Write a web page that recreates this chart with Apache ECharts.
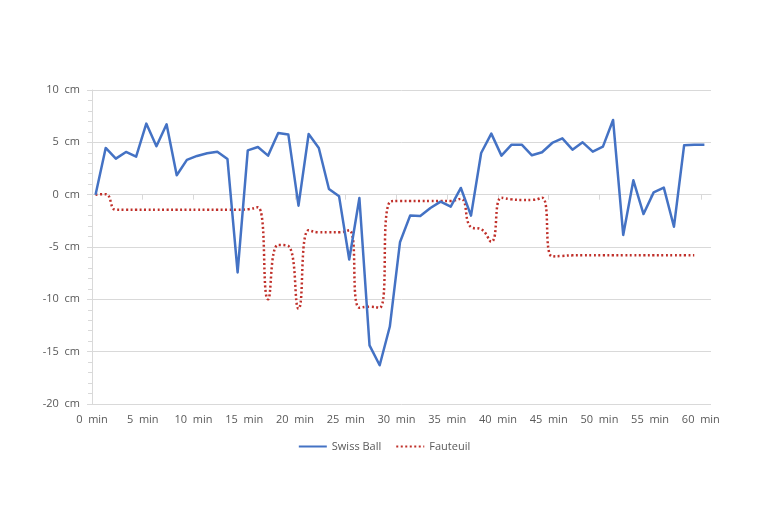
<!DOCTYPE html>
<html>
<head>
<meta charset="utf-8">
<script src="https://cdn.jsdelivr.net/npm/echarts@6/dist/echarts.min.js"></script>
<style>
html,body{margin:0;padding:0;background:#fff;}
#chart{width:768px;height:512px;}
</style>
</head>
<body>
<div id="chart"></div>
<script>
// Time of each measurement (minutes)
const times = [0.35,1.35,2.35,3.35,4.35,5.35,6.35,7.35,8.35,9.35,10.35,11.35,12.35,13.35,14.35,15.35,16.35,17.35,18.35,19.35,20.35,21.35,22.35,23.35,24.35,25.35,26.35,27.35,28.35,29.35,30.35,31.35,32.35,33.35,34.35,35.35,36.35,37.35,38.35,39.35,40.35,41.35,42.35,43.35,44.35,45.35,46.35,47.35,48.35,49.35,50.35,51.35,52.35,53.35,54.35,55.35,56.35,57.35,58.35,59.35,60.35];

// Swiss Ball (cm)
const swissBall = [0,4.46,3.44,4.08,3.63,6.79,4.62,6.72,1.85,3.32,3.7,3.95,4.11,3.4,-7.43,4.23,4.55,3.73,5.9,5.74,-1.05,5.8,4.46,0.54,-0.16,-6.2,-0.32,-14.4,-16.3,-12.6,-4.55,-2.0,-2.04,-1.27,-0.67,-1.15,0.64,-2.0,3.98,5.83,3.73,4.78,4.78,3.76,4.05,4.94,5.38,4.3,5.0,4.11,4.59,7.14,-3.85,1.37,-1.85,0.22,0.67,-3.06,4.71,4.78,4.78];

// Fauteuil (cm)
const fauteuil = [0,0.05,-1.45,-1.45,-1.45,-1.45,-1.45,-1.45,-1.45,-1.45,-1.45,-1.45,-1.45,-1.45,-1.45,-1.4,-1.2,-10.0,-4.8,-4.9,-10.9,-3.4,-3.6,-3.6,-3.6,-3.4,-10.8,-10.7,-10.8,-0.7,-0.6,-0.6,-0.6,-0.6,-0.6,-0.6,-0.4,-3.1,-3.3,-4.5,-0.3,-0.45,-0.5,-0.5,-0.3,-5.9,-5.85,-5.8,-5.8,-5.8,-5.8,-5.8,-5.8,-5.8,-5.8,-5.8,-5.8,-5.8,-5.8,-5.8];

// Tick labels
const xTicks = [0,5,10,15,20,25,30,35,40,45,50,55,60];
const yTicks = [-20,-15,-10,-5,0,5,10];

const textColor = '#595959';
const lineColor = '#d9d9d9';
const font = 'Open Sans';

const chart = echarts.init(document.getElementById('chart'), null, {renderer: 'canvas'});
chart.setOption({
  backgroundColor: '#fff',
  animation: false,
  grid: {left: 92, right: 57, top: 90, bottom: 108, containLabel: false},
  legend: {
    bottom: 55,
    left: 'center',
    itemWidth: 28,
    itemHeight: 10,
    itemGap: 14,
    itemStyle: {opacity: 0},
    textStyle: {color: textColor, fontFamily: font, fontSize: 11},
    data: ['Swiss Ball', 'Fauteuil']
  },
  xAxis: {
    type: 'value',
    min: 0,
    max: 61,
    interval: 5,
    axisLine: {show: true, lineStyle: {color: lineColor, width: 1}},
    axisTick: {show: true, length: 5, customValues: xTicks, lineStyle: {color: lineColor}},
    axisLabel: {
      customValues: xTicks,
      color: textColor, fontFamily: font, fontSize: 11, margin: 10,
      formatter: v => v + '\u00a0 min'
    },
    splitLine: {show: false}
  },
  yAxis: {
    type: 'value',
    min: yTicks[0],
    max: yTicks[yTicks.length - 1],
    interval: 5,
    axisLine: {show: true, lineStyle: {color: lineColor, width: 1}},
    axisTick: {show: true, length: 5, lineStyle: {color: lineColor}},
    minorTick: {show: true, splitNumber: 5, length: 4, lineStyle: {color: lineColor}},
    axisLabel: {
      color: textColor, fontFamily: font, fontSize: 11, margin: 12,
      formatter: v => v + '\u00a0 cm'
    },
    splitLine: {show: true, lineStyle: {color: lineColor, width: 1}}
  },
  series: [
    {
      name: 'Swiss Ball',
      type: 'line',
      data: times.map((t, i) => [t, swissBall[i]]),
      showSymbol: false,
      symbol: 'none',
      lineStyle: {color: '#4472c4', width: 2.5, join: 'round'},
      itemStyle: {color: '#4472c4'},
      z: 3
    },
    {
      name: 'Fauteuil',
      type: 'line',
      data: fauteuil.map((v, i) => [times[i], v]),
      showSymbol: false,
      symbol: 'none',
      smooth: 0.5,
      lineStyle: {color: '#c0302a', width: 2.5, type: [2, 2.5]},
      itemStyle: {color: '#c0302a'},
      z: 2
    }
  ]
});
</script>
</body>
</html>
